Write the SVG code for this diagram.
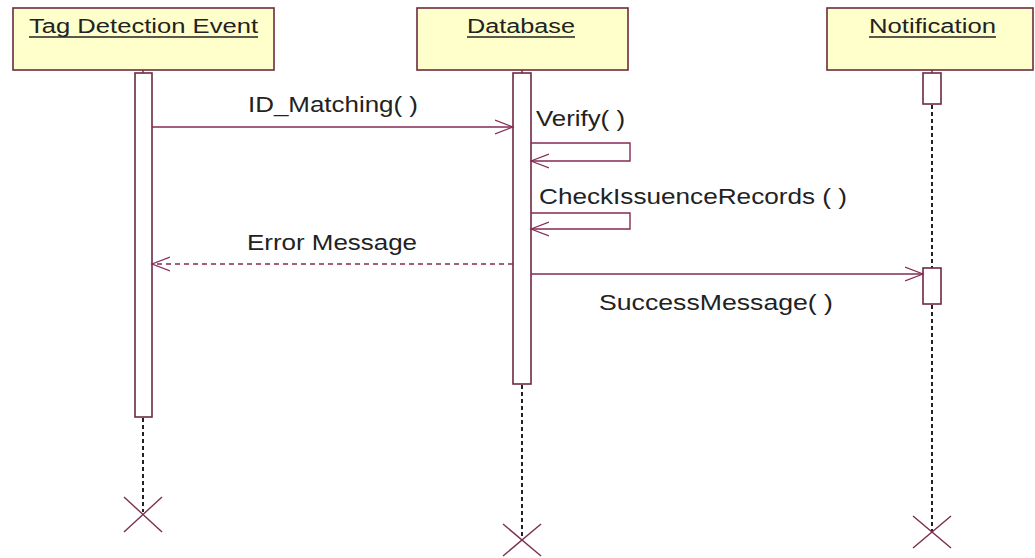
<svg xmlns="http://www.w3.org/2000/svg" width="1035" height="558" viewBox="0 0 1035 558">
<style>
.box{fill:#ffffcc;stroke:#6e2a40;stroke-width:1.6}
.bar{fill:#ffffff;stroke:#6e2a40;stroke-width:1.6}
.title{font-family:"Liberation Sans",Arial,sans-serif;font-size:20px;fill:#222}
.ul{stroke:#222;stroke-width:1.3}
.lbl{font-family:"Liberation Sans",Arial,sans-serif;font-size:22px;fill:#222}
.life{stroke:#222;stroke-width:2;stroke-dasharray:4 3;fill:none}
.msg{stroke:#852a55;stroke-width:1.4;fill:none}
.dash{stroke:#852a55;stroke-width:1.4;fill:none;stroke-dasharray:5 4}
.x{stroke:#7a3050;stroke-width:1.4}
</style>
<defs>
<marker id="open" markerWidth="20" markerHeight="16" refX="18" refY="8" orient="auto" markerUnits="userSpaceOnUse">
<path d="M0,1 L18,8 L0,15" fill="none" stroke="#852a55" stroke-width="1.2"/>
</marker>
</defs>
<rect width="1035" height="558" fill="#ffffff"/>
<g id="tag">
<rect class="box" x="13" y="8" width="261" height="62"/>
<text class="title" x="29" y="33" textLength="229" lengthAdjust="spacingAndGlyphs">Tag Detection Event</text>
<line class="ul" x1="29" y1="37" x2="258" y2="37"/>
<line x1="143" y1="70" x2="143" y2="73" stroke="#6e2a40" stroke-width="1.4"/>
<rect class="bar" x="135" y="73" width="17" height="344"/>
<line class="life" x1="143" y1="418" x2="143" y2="512"/>
<line class="x" x1="124" y1="497" x2="162" y2="532"/>
<line class="x" x1="162" y1="497" x2="124" y2="532"/>
</g>
<g id="database">
<rect class="box" x="417" y="8" width="211" height="62"/>
<text class="title" x="467" y="33" textLength="108" lengthAdjust="spacingAndGlyphs">Database</text>
<line class="ul" x1="467" y1="37" x2="575" y2="37"/>
<line x1="522" y1="70" x2="522" y2="73" stroke="#6e2a40" stroke-width="1.4"/>
<rect class="bar" x="513" y="73" width="18" height="311"/>
<line class="life" x1="522" y1="385" x2="522" y2="540"/>
<line class="x" x1="503" y1="524" x2="541" y2="556"/>
<line class="x" x1="541" y1="524" x2="503" y2="556"/>
</g>
<g id="notification">
<rect class="box" x="827" y="8" width="206" height="62"/>
<text class="title" x="869" y="33" textLength="127" lengthAdjust="spacingAndGlyphs">Notification</text>
<line class="ul" x1="869" y1="37" x2="996" y2="37"/>
<line x1="932" y1="70" x2="932" y2="73" stroke="#6e2a40" stroke-width="1.4"/>
<rect class="bar" x="923" y="73" width="18" height="31"/>
<line class="life" x1="932" y1="105" x2="932" y2="268"/>
<rect class="bar" x="923" y="268" width="18" height="36"/>
<line class="life" x1="932" y1="305" x2="932" y2="532"/>
<line class="x" x1="913" y1="516" x2="951" y2="548"/>
<line class="x" x1="951" y1="516" x2="913" y2="548"/>
</g>
<g id="connectors">
<line class="msg" x1="152" y1="127" x2="513" y2="127" marker-end="url(#open)"/>
<text class="lbl" x="248" y="112" textLength="170" lengthAdjust="spacingAndGlyphs">ID_Matching( )</text>
<polyline class="msg" points="531,143 630,143 630,161 531,161" marker-end="url(#open)"/>
<text class="lbl" x="536" y="126" textLength="89" lengthAdjust="spacingAndGlyphs">Verify( )</text>
<polyline class="msg" points="531,213 630,213 630,229 531,229" marker-end="url(#open)"/>
<text class="lbl" x="539" y="204" textLength="308" lengthAdjust="spacingAndGlyphs">CheckIssuenceRecords ( )</text>
<line class="dash" x1="513" y1="264" x2="152" y2="264" marker-end="url(#open)"/>
<text class="lbl" x="247" y="250" textLength="170" lengthAdjust="spacingAndGlyphs">Error Message</text>
<line class="msg" x1="531" y1="274" x2="923" y2="274" marker-end="url(#open)"/>
<text class="lbl" x="599" y="310" textLength="234" lengthAdjust="spacingAndGlyphs">SuccessMessage( )</text>
</g>
</svg>
